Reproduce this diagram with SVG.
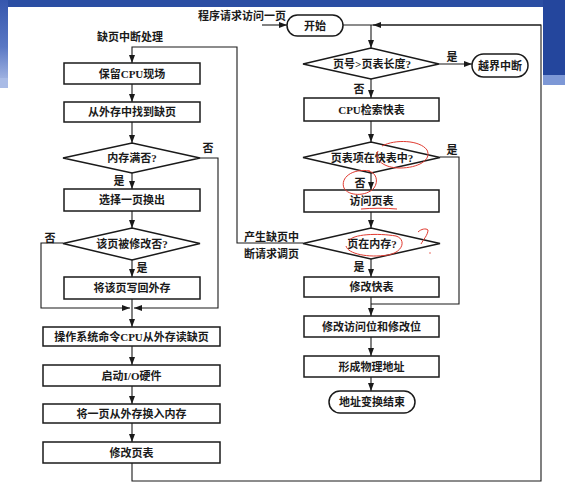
<svg xmlns="http://www.w3.org/2000/svg" width="565" height="484" viewBox="0 0 565 484">
<defs>
<marker id="ah" viewBox="0 0 8 6" refX="8" refY="3" markerWidth="8" markerHeight="6" markerUnits="userSpaceOnUse" orient="auto">
<path d="M0,0 L8,3 L0,6 Z" fill="#1a1a1a"/>
</marker>
<linearGradient id="lg" x1="0" y1="0" x2="0" y2="1">
<stop offset="0" stop-color="#3556ad"/>
<stop offset="0.6" stop-color="#5a78c4"/>
<stop offset="1" stop-color="#9db0e0"/>
</linearGradient>
</defs>
<style>
.box{fill:#fff;stroke:#1a1a1a;stroke-width:1.5}
.cn{fill:none;stroke:#1a1a1a;stroke-width:1.1}
.t{font-family:"Liberation Serif","Noto Sans CJK SC",serif;font-size:11px;font-weight:bold;fill:#1a1a1a;text-anchor:middle;dominant-baseline:central}
.l{text-anchor:start}
.red{fill:none;stroke:#e03a30;stroke-width:1}
</style>
<rect width="565" height="484" fill="#fff"/>
<rect x="0" y="0" width="565" height="7" fill="#2b4ea3"/>
<rect x="0" y="0" width="8" height="78" fill="url(#lg)"/>
<rect x="0" y="78" width="8" height="10" fill="#a9bbe6"/>
<rect x="543" y="0" width="22" height="75" fill="#24469d"/>
<rect x="543" y="75" width="22" height="10" fill="#7d98d6"/>

<g id="connectors">
<path class="cn" d="M262,25 H287" marker-end="url(#ah)"/>
<path class="cn" d="M343,25 H541"/>
<path class="cn" d="M132,463 V481 H541 V25 H373" marker-end="url(#ah)"/>
<path class="cn" d="M371,25 V48" marker-end="url(#ah)"/>
<path class="cn" d="M439,64 H472" marker-end="url(#ah)"/>
<path class="cn" d="M371,79 V98" marker-end="url(#ah)"/>
<path class="cn" d="M371,121 V142" marker-end="url(#ah)"/>
<path class="cn" d="M371,173 V190" marker-end="url(#ah)"/>
<path class="cn" d="M371,212 V228" marker-end="url(#ah)"/>
<path class="cn" d="M371,259 V277" marker-end="url(#ah)"/>
<path class="cn" d="M371,297 V316" marker-end="url(#ah)"/>
<path class="cn" d="M440,157 H459 V304 H371"/>
<path class="cn" d="M371,337 V356" marker-end="url(#ah)"/>
<path class="cn" d="M371,377 V391" marker-end="url(#ah)"/>
<path class="cn" d="M303,243 H237 V47 H132 V63" marker-end="url(#ah)"/>
<path class="cn" d="M132,84 V102" marker-end="url(#ah)"/>
<path class="cn" d="M132,122 V143" marker-end="url(#ah)"/>
<path class="cn" d="M132,173 V189" marker-end="url(#ah)"/>
<path class="cn" d="M132,211 V228" marker-end="url(#ah)"/>
<path class="cn" d="M132,260 V277" marker-end="url(#ah)"/>
<path class="cn" d="M132,299 V327" marker-end="url(#ah)"/>
<path class="cn" d="M200,158 H218 V308 H134" marker-end="url(#ah)"/>
<path class="cn" d="M63,243 H41 V308 H130" marker-end="url(#ah)"/>
<path class="cn" d="M132,346 V365" marker-end="url(#ah)"/>
<path class="cn" d="M132,386 V404" marker-end="url(#ah)"/>
<path class="cn" d="M132,423 V442" marker-end="url(#ah)"/>
</g>

<g id="labels">
<text class="t" x="242" y="16">程序请求访问一页</text>
<text class="t" x="130" y="37">缺页中断处理</text>
<text class="t" x="452" y="57">是</text>
<text class="t" x="359" y="89">否</text>
<text class="t" x="452" y="150">是</text>
<text class="t" x="360" y="183">否</text>
<text class="t" x="359" y="267">是</text>
<text class="t l" x="244" y="237">产生缺页中</text>
<text class="t l" x="244" y="254">断请求调页</text>
<text class="t" x="208" y="148">否</text>
<text class="t" x="119" y="181">是</text>
<text class="t" x="50" y="238">否</text>
<text class="t" x="142" y="268">是</text>
</g>

<g id="start"><rect class="box" x="287" y="15" width="56" height="21" rx="10.5"/><text class="t" x="315" y="25.5">开始</text></g>
<g id="d_len"><path class="box" d="M303,64 L371,48 L439,64 L371,79 Z"/><text class="t" x="372" y="64">页号&gt;页表长度?</text></g>
<g id="overflow"><rect class="box" x="472" y="54" width="56" height="23" rx="11.5"/><text class="t" x="500" y="65.5">越界中断</text></g>
<g id="tlb_search"><rect class="box" x="304" y="98" width="135" height="23"/><text class="t" x="371.5" y="109.5">CPU检索快表</text></g>
<g id="d_tlb"><path class="box" d="M303,157.5 L371,142 L440,157.5 L371,173 Z"/><text class="t" x="372" y="157.5">页表项在快表中?</text></g>
<g id="visit_pt"><rect class="box" x="304" y="190" width="135" height="22"/><text class="t" x="371.5" y="201">访问页表</text></g>
<g id="d_mem"><path class="box" d="M303,243.5 L371,228 L440,243.5 L371,259 Z"/><text class="t" x="372" y="243.5">页在内存?</text></g>
<g id="mod_tlb"><rect class="box" x="304" y="277" width="135" height="20"/><text class="t" x="371.5" y="287">修改快表</text></g>
<g id="mod_bits"><rect class="box" x="304" y="316" width="135" height="21"/><text class="t" x="371.5" y="326.5">修改访问位和修改位</text></g>
<g id="phys"><rect class="box" x="304" y="356" width="135" height="21"/><text class="t" x="371.5" y="366.5">形成物理地址</text></g>
<g id="end"><rect class="box" x="329" y="391" width="86" height="22" rx="11"/><text class="t" x="372" y="402">地址变换结束</text></g>

<g id="save_cpu"><rect class="box" x="64" y="63" width="136" height="21"/><text class="t" x="132" y="73.5">保留CPU现场</text></g>
<g id="find_page"><rect class="box" x="64" y="102" width="136" height="20"/><text class="t" x="132" y="112">从外存中找到缺页</text></g>
<g id="d_full"><path class="box" d="M63,158 L132,143 L200,158 L132,173 Z"/><text class="t" x="132" y="158">内存满否?</text></g>
<g id="select_out"><rect class="box" x="64" y="189" width="136" height="22"/><text class="t" x="132" y="200">选择一页换出</text></g>
<g id="d_modified"><path class="box" d="M63,243.5 L132,228 L200,243.5 L132,260 Z"/><text class="t" x="132" y="244">该页被修改否?</text></g>
<g id="write_back"><rect class="box" x="64" y="277" width="136" height="22"/><text class="t" x="132" y="288">将该页写回外存</text></g>
<g id="os_read"><rect class="box" x="43" y="327" width="177" height="19"/><text class="t" x="131.5" y="336.5">操作系统命令CPU从外存读缺页</text></g>
<g id="start_io"><rect class="box" x="43" y="365" width="177" height="21"/><text class="t" x="131.5" y="375.5">启动I/O硬件</text></g>
<g id="swap_in"><rect class="box" x="43" y="404" width="177" height="19"/><text class="t" x="131.5" y="413.5">将一页从外存换入内存</text></g>
<g id="mod_pt"><rect class="box" x="43" y="442" width="177" height="21"/><text class="t" x="131.5" y="452.5">修改页表</text></g>

<g id="annotations">
<path class="red" d="M382,146 C395,139 420,140 427,150 C432,160 418,168 400,168 C384,168 374,160 378,151"/>
<path class="red" d="M370,171 C352,168 340,178 344,188 C348,196 366,197 374,188 C379,181 376,172 368,171"/>
<path class="red" d="M361,209 C372,208 386,208 397,209"/>
<path class="red" d="M349,241 C352,234 378,233 396,236 C406,239 404,252 388,255 C368,258 348,254 346,246"/>
<path class="red" d="M418,232 C421,229 426,228 428,230 C428,235 423,240 421,244"/>
<circle cx="430" cy="253" r="0.7" fill="#e03a30"/>
</g>
</svg>
